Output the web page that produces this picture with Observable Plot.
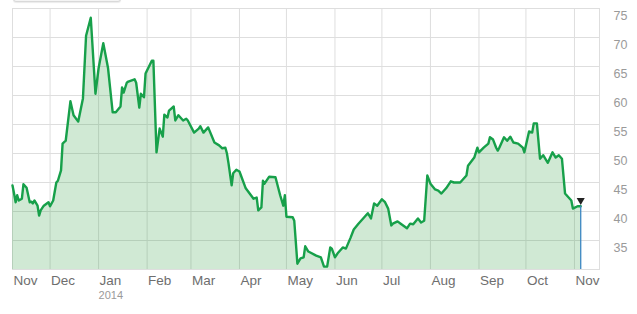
<!DOCTYPE html>
<html><head><meta charset="utf-8">
<script src="https://cdn.jsdelivr.net/npm/d3@7"></script>
<script src="https://cdn.jsdelivr.net/npm/@observablehq/plot@0.6"></script>
<style>
body{margin:0;background:#fff;}
#chart{position:relative;width:637px;height:314px;overflow:hidden;}
.tab{position:absolute;left:13px;top:-4px;width:106px;height:4px;background:#f4f4f4;border:1px solid #d9d9d9;border-radius:0 0 3px 3px;box-shadow:0 1px 1px rgba(0,0,0,0.08);}
</style>
</head><body><div id="chart"><div class="tab"></div></div>
<script>
const dates = [
"2013-11-07","2013-11-08","2013-11-09","2013-11-10","2013-11-11","2013-11-13","2013-11-14","2013-11-16","2013-11-18","2013-11-19",
"2013-11-20","2013-11-21","2013-11-23","2013-11-24","2013-11-25","2013-11-27","2013-11-30","2013-12-01","2013-12-03","2013-12-05",
"2013-12-06","2013-12-08","2013-12-09","2013-12-11","2013-12-14","2013-12-16","2013-12-19","2013-12-22","2013-12-24","2013-12-27",
"2013-12-30","2014-01-01","2014-01-04","2014-01-07","2014-01-10","2014-01-12","2014-01-15","2014-01-16","2014-01-17","2014-01-19",
"2014-01-20","2014-01-24","2014-01-25","2014-01-27","2014-01-28","2014-01-30","2014-01-31","2014-02-04","2014-02-05","2014-02-07",
"2014-02-09","2014-02-11","2014-02-12","2014-02-14","2014-02-15","2014-02-18","2014-02-19","2014-02-21","2014-02-24","2014-02-26",
"2014-02-27","2014-03-03","2014-03-06","2014-03-07","2014-03-09","2014-03-12","2014-03-16","2014-03-19","2014-03-21","2014-03-23",
"2014-03-24","2014-03-25","2014-03-27","2014-03-28","2014-03-30","2014-04-01","2014-04-05","2014-04-10","2014-04-12","2014-04-13",
"2014-04-15","2014-04-16","2014-04-17","2014-04-20","2014-04-24","2014-04-27","2014-04-29","2014-04-30","2014-05-01","2014-05-05",
"2014-05-06","2014-05-08","2014-05-10","2014-05-12","2014-05-13","2014-05-15","2014-05-20","2014-05-23","2014-05-25","2014-05-27",
"2014-05-29","2014-05-30","2014-06-01","2014-06-03","2014-06-06","2014-06-08","2014-06-11","2014-06-13","2014-06-16","2014-06-19",
"2014-06-22","2014-06-24","2014-06-26","2014-06-28","2014-07-01","2014-07-03","2014-07-05","2014-07-07","2014-07-08","2014-07-11",
"2014-07-13","2014-07-17","2014-07-19","2014-07-21","2014-07-24","2014-07-26","2014-07-28","2014-07-30","2014-08-01","2014-08-04",
"2014-08-06","2014-08-08","2014-08-11","2014-08-14","2014-08-16","2014-08-20","2014-08-24","2014-08-25","2014-08-29","2014-08-31",
"2014-09-01","2014-09-04","2014-09-07","2014-09-08","2014-09-10","2014-09-12","2014-09-13","2014-09-14","2014-09-17","2014-09-19",
"2014-09-21","2014-09-23","2014-09-26","2014-09-29","2014-09-30","2014-10-03","2014-10-05","2014-10-06","2014-10-08","2014-10-10",
"2014-10-12","2014-10-15","2014-10-18","2014-10-20","2014-10-22","2014-10-24","2014-10-26","2014-10-30","2014-10-31","2014-11-03",
"2014-11-05"
];
const prices = [
44.5,43.1,41.6,42.8,41.9,42.2,44.7,44.1,41.6,41.7,
41.4,41.9,41.0,39.3,40.2,41.0,41.6,40.9,41.9,45.0,
45.3,47.1,51.7,52.2,59.0,56.6,55.5,59.5,70.3,73.4,
60.3,64.7,69.0,64.8,57.1,57.1,58.1,61.4,60.5,62.2,
62.4,62.8,62.2,57.9,60.3,59.7,63.8,66.0,66.0,50.2,
54.3,52.9,56.7,56.2,57.4,58.1,55.7,56.6,55.7,56.0,
55.7,53.6,54.3,54.7,53.6,54.5,51.9,51.4,50.9,51.0,
50.0,48.3,44.5,46.6,47.2,46.9,44.0,42.2,42.4,40.2,
40.7,45.3,44.8,46.0,45.9,42.8,41.0,42.8,39.1,39.0,
38.4,31.0,31.9,32.1,34.0,33.1,32.4,32.1,30.5,30.5,
33.8,33.6,32.1,32.9,33.8,33.6,35.5,36.9,37.9,38.8,
39.7,38.8,41.4,41.0,42.1,41.6,40.5,37.6,37.9,38.3,
37.9,37.1,37.9,37.8,38.8,38.1,38.4,46.2,44.8,43.8,
43.6,43.1,44.0,45.2,45.0,45.0,46.2,47.9,49.3,51.0,
50.2,51.0,51.7,52.8,52.4,51.0,50.5,51.0,52.8,52.2,
52.9,51.9,51.7,51.0,50.2,53.8,53.6,55.2,55.2,49.1,
49.7,48.4,50.2,49.3,49.7,49.1,43.1,41.9,40.5,40.9,
40.9
];
const yTicks = [35,40,45,50,55,60,65,70,75];
const yMin = 30, yMax = 75;
const xStart = "2013-11-07", xEnd = "2014-11-17";
const monthStarts = ["2013-12-01","2014-01-01","2014-02-01","2014-03-01","2014-04-01","2014-05-01","2014-06-01","2014-07-01","2014-08-01","2014-09-01","2014-10-01","2014-11-01"];
const monthLabels = ["Nov","Dec","Jan","Feb","Mar","Apr","May","Jun","Jul","Aug","Sep","Oct","Nov"];
const yearLabel = {date: "2014-01-01", text: "2014"};

const data = dates.map((d, i) => ({date: new Date(d), value: prices[i]}));
const last = data[data.length - 1];
const gridDates = monthStarts.map(d => new Date(d));
const labelDates = [new Date(xStart), ...gridDates];

const chart = Plot.plot({
  width: 637, height: 314,
  marginLeft: 12, marginRight: 38, marginTop: 8, marginBottom: 45,
  style: {fontFamily: "Arial, 'Liberation Sans', sans-serif", background: "transparent"},
  x: {type: "utc", domain: [new Date(xStart), new Date(xEnd)], axis: null},
  y: {domain: [yMin, yMax], axis: null},
  marks: [
    Plot.gridY(yTicks, {stroke: "#dedede", strokeOpacity: 1}),
    Plot.gridX(gridDates, {stroke: "#dedede", strokeOpacity: 1}),
    Plot.frame({stroke: "#dedede"}),
    Plot.areaY(data, {x: "date", y1: yMin, y2: "value", fill: "#2a9d3a", fillOpacity: 0.22}),
    Plot.line(data, {x: "date", y: "value", stroke: "#17a04a", strokeWidth: 2.4}),
    Plot.ruleX([last], {x: "date", y1: yMin, y2: "value", stroke: "#3a86c0", strokeWidth: 1.3}),
    Plot.dot([last], {x: "date", y: "value", symbol: "triangle", r: 3, rotate: 180, fill: "#222", stroke: null, dy: -6}),
    Plot.text(yTicks, {y: d => d, text: d => String(d), frameAnchor: "right", dx: 14, dy: 7, textAnchor: "start", fill: "#9a9a9a", fontSize: 12.5}),
    Plot.text(labelDates, {x: d => d, text: (d, i) => monthLabels[i], frameAnchor: "bottom", dx: 1, dy: 15.5, textAnchor: "start", fill: "#6e6e6e", fontSize: 13.5}),
    Plot.text([yearLabel], {x: d => new Date(d.date), text: "text", frameAnchor: "bottom", dx: 0, dy: 29.5, textAnchor: "start", fill: "#9a9a9a", fontSize: 11})
  ]
});
document.getElementById("chart").appendChild(chart);
</script>
</body></html>
